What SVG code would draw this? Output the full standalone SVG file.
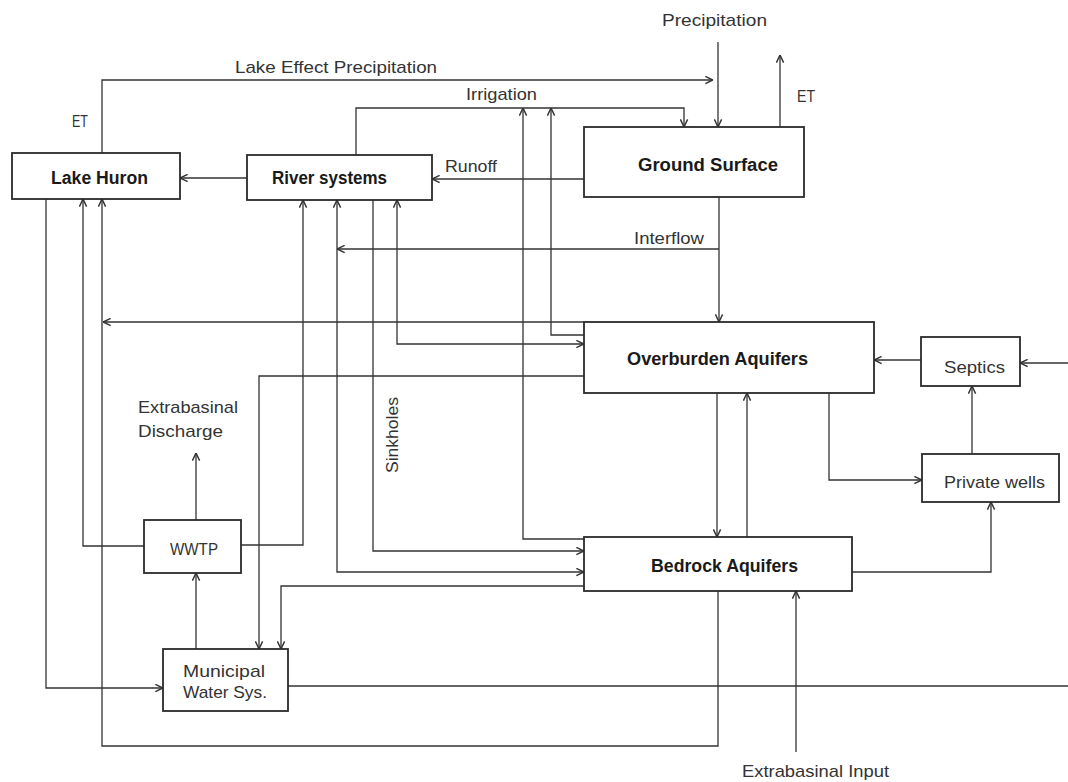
<svg xmlns="http://www.w3.org/2000/svg" width="1068" height="782" viewBox="0 0 1068 782">
<style>
.box{fill:#fff;stroke:#2a2a2a;stroke-width:1.8}
.ln{fill:none;stroke:#333;stroke-width:1.3;marker-end:url(#ah)}
.nl{fill:none;stroke:#333;stroke-width:1.3}
.both{marker-start:url(#ahs)}
.t{font-family:"Liberation Sans",Arial,sans-serif;font-size:17px;fill:#333}
.b{font-family:"Liberation Sans",Arial,sans-serif;font-size:18px;font-weight:bold;fill:#1a1a1a}
</style>
<defs>
<marker id="ah" viewBox="0 0 10 10" refX="9.5" refY="5" markerWidth="9" markerHeight="9" markerUnits="userSpaceOnUse" orient="auto"><path d="M1,1 L9.5,5 L1,9" fill="none" stroke="#333" stroke-width="1.6"/></marker>
<marker id="ahs" viewBox="0 0 10 10" refX="9.5" refY="5" markerWidth="9" markerHeight="9" markerUnits="userSpaceOnUse" orient="auto-start-reverse"><path d="M1,1 L9.5,5 L1,9" fill="none" stroke="#333" stroke-width="1.6"/></marker>
</defs>
<rect width="1068" height="782" fill="#fff"/>
<g id="connectors">
<path class="ln" d="M718,42 V127"/>
<path class="ln" d="M780,127 V55"/>
<path class="ln" d="M102,153 V80 H713"/>
<path class="ln" d="M356,155 V108 H684 V127"/>
<path class="ln" d="M584,539 H523 V108"/>
<path class="ln" d="M584,335 H551 V108"/>
<path class="ln" d="M584,179 H432"/>
<path class="ln" d="M247,178 H180"/>
<path class="ln" d="M719,197 V322"/>
<path class="ln" d="M719,249 H337"/>
<path class="ln" d="M584,322 H103"/>
<path class="ln" d="M718,591 V746 H102 V199"/>
<path class="ln" d="M144,546 H83 V199"/>
<path class="ln" d="M46,199 V688 H163"/>
<path class="ln" d="M196,520 V453"/>
<path class="ln" d="M196,649 V573"/>
<path class="ln" d="M241,545 H303 V200"/>
<path class="ln" d="M584,376 H259 V649"/>
<path class="ln both" d="M337,200 V572 H584"/>
<path class="ln" d="M373,200 V551 H584"/>
<path class="ln both" d="M397,200 V344 H584"/>
<path class="ln" d="M584,586 H281 V649"/>
<path class="ln" d="M717,393 V537"/>
<path class="ln" d="M747,537 V393"/>
<path class="ln" d="M796,752 V591"/>
<path class="ln" d="M852,572 H991 V502"/>
<path class="ln" d="M829,393 V480 H922"/>
<path class="ln" d="M972,454 V386"/>
<path class="ln" d="M921,360 H874"/>
<path class="ln" d="M1068,363 H1020"/>
<path class="nl" d="M288,686 H1068"/>
</g>
<g id="flow-labels">
<text class="t" x="662" y="26" textLength="105" lengthAdjust="spacingAndGlyphs">Precipitation</text>
<text class="t" x="235" y="73" textLength="202" lengthAdjust="spacingAndGlyphs">Lake Effect Precipitation</text>
<text class="t" x="466" y="100" textLength="71" lengthAdjust="spacingAndGlyphs">Irrigation</text>
<text class="t" x="797" y="102" textLength="18" lengthAdjust="spacingAndGlyphs">ET</text>
<text class="t" x="72" y="127" textLength="16" lengthAdjust="spacingAndGlyphs">ET</text>
<text class="t" x="445" y="172" textLength="52" lengthAdjust="spacingAndGlyphs">Runoff</text>
<text class="t" x="634" y="244" textLength="70" lengthAdjust="spacingAndGlyphs">Interflow</text>
<text class="t" transform="translate(398,473) rotate(-90)" textLength="76" lengthAdjust="spacingAndGlyphs">Sinkholes</text>
<text class="t" x="138" y="413" textLength="100" lengthAdjust="spacingAndGlyphs">Extrabasinal</text>
<text class="t" x="138" y="437" textLength="85" lengthAdjust="spacingAndGlyphs">Discharge</text>
<text class="t" x="742" y="777" textLength="147" lengthAdjust="spacingAndGlyphs">Extrabasinal Input</text>
</g>
<g id="lake-huron"><rect class="box" x="12" y="153" width="168" height="46"/><text class="b" x="51" y="184" textLength="97" lengthAdjust="spacingAndGlyphs">Lake Huron</text></g>
<g id="river-systems"><rect class="box" x="247" y="155" width="185" height="45"/><text class="b" x="272" y="184" textLength="115" lengthAdjust="spacingAndGlyphs">River systems</text></g>
<g id="ground-surface"><rect class="box" x="584" y="127" width="220" height="70"/><text class="b" x="638" y="171" textLength="140" lengthAdjust="spacingAndGlyphs">Ground Surface</text></g>
<g id="overburden-aquifers"><rect class="box" x="584" y="322" width="290" height="71"/><text class="b" x="627" y="365" textLength="181" lengthAdjust="spacingAndGlyphs">Overburden Aquifers</text></g>
<g id="bedrock-aquifers"><rect class="box" x="584" y="537" width="268" height="54"/><text class="b" x="651" y="572" textLength="147" lengthAdjust="spacingAndGlyphs">Bedrock Aquifers</text></g>
<g id="septics"><rect class="box" x="921" y="337" width="99" height="49"/><text class="t" x="944" y="373" textLength="61" lengthAdjust="spacingAndGlyphs">Septics</text></g>
<g id="private-wells"><rect class="box" x="922" y="454" width="137" height="48"/><text class="t" x="944" y="488" textLength="101" lengthAdjust="spacingAndGlyphs">Private wells</text></g>
<g id="wwtp"><rect class="box" x="144" y="520" width="97" height="53"/><text class="t" x="170" y="555" textLength="48" lengthAdjust="spacingAndGlyphs">WWTP</text></g>
<g id="municipal-water-sys"><rect class="box" x="163" y="649" width="125" height="62"/><text class="t" x="183" y="677" textLength="82" lengthAdjust="spacingAndGlyphs">Municipal</text><text class="t" x="183" y="698" textLength="84" lengthAdjust="spacingAndGlyphs">Water Sys.</text></g>
</svg>
